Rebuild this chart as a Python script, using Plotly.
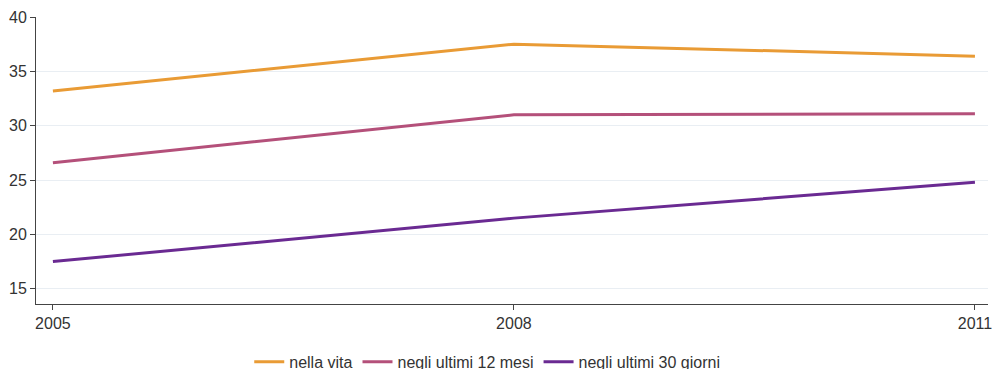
import plotly.graph_objects as go

years = [2005, 2008, 2011]
nella_vita = [33.2, 37.5, 36.4]
ultimi_12_mesi = [26.6, 31.0, 31.1]
ultimi_30_giorni = [17.5, 21.5, 24.8]

series = [
    ("nella vita", nella_vita, "#E99B35"),
    ("negli ultimi 12 mesi", ultimi_12_mesi, "#B4507A"),
    ("negli ultimi 30 giorni", ultimi_30_giorni, "#6A2A92"),
]

fig = go.Figure()
for name, values, color in series:
    fig.add_trace(go.Scatter(
        x=years, y=values, mode="lines", name=name,
        line=dict(color=color, width=3),
    ))

fig.update_layout(
    width=992, height=369,
    margin=dict(l=36, r=4, t=17, b=65, autoexpand=False),
    plot_bgcolor="white", paper_bgcolor="white",
    font=dict(family="Liberation Sans, Arial, sans-serif", size=16, color="#333333"),
    showlegend=True,
    legend=dict(orientation="h", x=0.474, xanchor="center",
                y=-0.202, yanchor="middle",
                font=dict(size=16), itemwidth=30, traceorder="normal"),
    xaxis=dict(
        range=[2004.89, 2011.085], tickvals=years, ticktext=[str(y) for y in years],
        showgrid=False, zeroline=False, showline=True, linecolor="#444444", linewidth=1,
        ticks="outside", ticklen=5, tickcolor="#444444", automargin=False,
        ticklabeloverflow="allow",
    ),
    yaxis=dict(
        range=[13.6, 40], tickvals=[15, 20, 25, 30, 35, 40],
        showgrid=True, gridcolor="#E9EEF3", zeroline=False,
        showline=True, linecolor="#444444", linewidth=1,
        ticks="outside", ticklen=5, tickcolor="#444444", automargin=False,
    ),
)

# page body has an 8px default margin; drop it so the figure fills the window
fig.write_html(
    "out.html",
    config={"displayModeBar": False},
    post_script="document.body.style.margin = '0';",
)
